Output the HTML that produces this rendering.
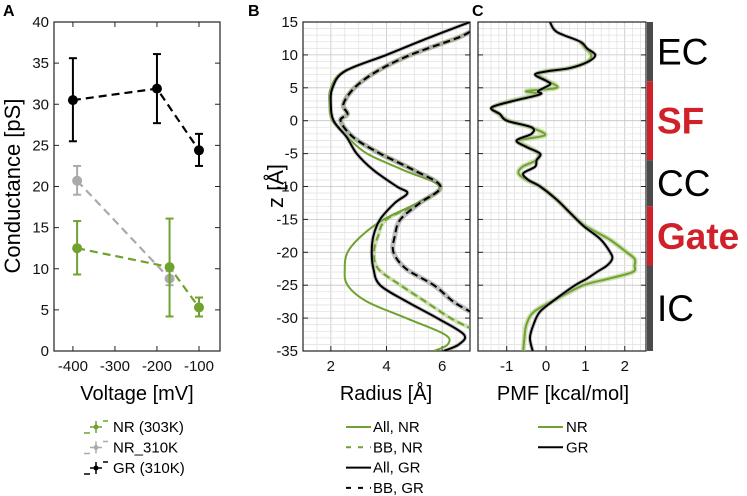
<!DOCTYPE html>
<html><head><meta charset="utf-8"><style>
body{margin:0;background:#fff}
svg{display:block;font-family:"Liberation Sans",sans-serif}
</style></head><body>
<svg id="fig" width="747" height="496" viewBox="0 0 747 496"></svg>
<script>
// ---- Panel A data
const voltsGR=[-400,-200,-100], condGR=[30.5,31.9,24.4], loGR=[25.5,27.7,22.5], hiGR=[35.6,36.1,26.4];
const voltsNR310=[-390,-170], condNR310=[20.7,8.8], loNR310=[19.0,8.0], hiNR310=[22.5,9.7];
const voltsNR303=[-390,-170,-100], condNR303=[12.5,10.2,5.3], loNR303=[9.3,4.2,4.2], hiNR303=[15.8,16.1,6.5];
const aYTicks=[0,5,10,15,20,25,30,35,40], aXTicks=[-400,-300,-200,-100];
// ---- Panel B data (z in Å, radius in Å)
const zAllGR=[15,12.5,10,7.5,5,2.5,0,-2.5,-5,-7.5,-10,-11,-12.5,-15,-17.5,-20,-22.5,-25,-27.5,-30,-32.5,-34,-35];
const rAllGR=[7.0,5.46,4.0,2.5,2.06,2.0,2.1,2.57,2.93,3.53,4.37,4.75,4.3,3.77,3.53,3.47,3.53,3.77,4.73,5.82,6.78,6.6,6.06];
const zAllNR=[15,12.5,10,7.5,5,2.5,0,-2.5,-5,-7.5,-10,-12.5,-15,-17.5,-20,-22.5,-25,-27.5,-30,-32.5,-34,-35];
const rAllNR=[7.0,5.45,4.0,2.45,2.0,1.95,2.05,2.6,3.3,4.6,5.9,5.1,3.9,3.1,2.6,2.5,2.6,3.3,4.7,6.1,6.2,5.7];
const zBBGR=[13.5,12.5,10,7.5,5,2.5,1,0,-2.5,-5,-7.5,-10,-12.5,-15,-17.5,-20,-22.5,-25,-27.5,-29];
const rBBGR=[7.0,6.5,4.86,3.65,2.85,2.45,2.6,2.35,2.8,3.77,4.97,5.94,5.2,4.5,4.3,4.25,4.7,5.7,6.4,7.0];
const zBBNR=[13.5,12.5,10,7.5,5,2.5,1,0,-2.5,-5,-7.5,-10,-12.5,-15,-17.5,-20,-22.5,-25,-27.5,-30,-31.5];
const rBBNR=[7.0,6.5,4.86,3.65,2.85,2.45,2.6,2.35,2.8,3.77,4.97,5.94,5.2,4.0,3.7,3.55,3.7,4.5,5.4,6.3,7.0];
const bYTicks=[15,10,5,0,-5,-10,-15,-20,-25,-30,-35], bXTicks=[2,4,6];
// ---- Panel C data (z, PMF kcal/mol)
const zPmfGR=[15,13.5,12,11,10,9,8,7.5,7,6,5.5,4.5,4,3,2,1,0,-1,-2,-3,-4,-5,-6,-7,-8,-9,-10,-12,-14,-16,-18,-20,-21,-22,-23,-24,-25,-27,-29,-31,-33,-35];
const pmfGR=[0.1,0.27,0.87,1.04,1.25,1.08,0.61,0.02,-0.28,0.02,0.1,-0.2,-0.15,-0.83,-1.39,-1.17,-1.0,-0.37,-0.37,-0.75,-0.5,-0.15,-0.24,-0.28,-0.58,-0.45,-0.15,0.27,0.61,0.95,1.38,1.63,1.68,1.55,1.29,1.04,0.74,0.27,-0.15,-0.32,-0.41,-0.34];
const zPmfNR=[12,11,10,9,8,7.5,7,6,5,4.5,4,3,2,1,0,-1,-2.2,-3,-4,-5,-6,-7,-8,-9,-10,-12,-14,-16,-18,-20,-21,-22,-23,-24,-25,-27,-29,-31,-33,-35];
const pmfNR=[0.87,1.0,1.15,1.05,0.6,0.0,-0.2,0.05,0.27,-0.5,-0.2,-0.9,-1.35,-1.2,-0.95,-0.4,-0.03,-0.7,-0.45,-0.2,-0.25,-0.6,-0.7,-0.5,-0.15,0.27,0.61,1.0,1.6,2.05,2.25,2.25,2.2,1.6,0.95,0.3,-0.3,-0.5,-0.55,-0.58];
const cXTicks=[-1,0,1,2];
const regionNames=["EC","SF","CC","Gate","IC"], regionTop=[15,6,-6,-13,-22], regionBot=[6,-6,-13,-22,-35];

const S='http://www.w3.org/2000/svg', svg=document.getElementById('fig');
function mk(tag,at,parent){const e=document.createElementNS(S,tag);for(const k in at)e.setAttribute(k,at[k]);(parent||svg).appendChild(e);return e;}
function txt(x,y,s,at,parent){const e=mk('text',Object.assign({x:x,y:y},at),parent);e.textContent=s;return e;}
function smooth(p){ // Catmull-Rom to cubic bezier
 let d='M'+p[0][0]+','+p[0][1];
 for(let i=0;i<p.length-1;i++){const p0=p[Math.max(0,i-1)],p1=p[i],p2=p[i+1],p3=p[Math.min(p.length-1,i+2)];
  const c1=[p1[0]+(p2[0]-p0[0])/6,p1[1]+(p2[1]-p0[1])/6],c2=[p2[0]-(p3[0]-p1[0])/6,p2[1]-(p3[1]-p1[1])/6];
  d+=' C'+c1[0]+','+c1[1]+' '+c2[0]+','+c2[1]+' '+p2[0]+','+p2[1];}
 return d;}
const GREEN='#6fa22e', LGREEN='#a9c97a';

// ===== Panel A
const ax={l:54,r:220,t:22,b:351};
const axX=v=>ax.l+(v+445)/395*(ax.r-ax.l), axY=v=>ax.b-v/40*(ax.b-ax.t);
const gA=mk('g',{});


mk('rect',{x:ax.l,y:ax.t,width:ax.r-ax.l,height:ax.b-ax.t,fill:'none',stroke:'#222','stroke-width':1.2},gA);
aYTicks.forEach(t=>{const y=axY(t);mk('line',{x1:ax.l,x2:ax.l+5,y1:y,y2:y,stroke:'#222'},gA);mk('line',{x1:ax.r,x2:ax.r-5,y1:y,y2:y,stroke:'#222'},gA);
 const e=txt(ax.l-5,y+5,String(t),{'text-anchor':'end','font-size':15,fill:'#111'},gA);});
aXTicks.forEach(t=>{const x=axX(t);mk('line',{x1:x,x2:x,y1:ax.b,y2:ax.b-5,stroke:'#222'},gA);mk('line',{x1:x,x2:x,y1:ax.t,y2:ax.t+5,stroke:'#222'},gA);
 const e=txt(x,ax.b+20,String(t),{'text-anchor':'middle','font-size':15,fill:'#111'},gA);});
function series(vx,vy,lo,hi,col,name){
 const g=mk('g',{},gA);
 mk('polyline',{points:vx.map((v,i)=>axX(v)+','+axY(vy[i])).join(' '),fill:'none',stroke:col,'stroke-width':2.2,'stroke-dasharray':'8,5'},g);
 vx.forEach((v,i)=>{const x=axX(v);
  mk('line',{x1:x,x2:x,y1:axY(lo[i]),y2:axY(hi[i]),stroke:col,'stroke-width':2},g);
  mk('line',{x1:x-4,x2:x+4,y1:axY(lo[i]),y2:axY(lo[i]),stroke:col,'stroke-width':2},g);
  mk('line',{x1:x-4,x2:x+4,y1:axY(hi[i]),y2:axY(hi[i]),stroke:col,'stroke-width':2},g);
  const c=mk('circle',{cx:x,cy:axY(vy[i]),r:5,fill:col},g);});
}
series(voltsGR,condGR,loGR,hiGR,'#000','series-gr-310k');
series(voltsNR310,condNR310,loNR310,hiNR310,'#aaa','series-nr-310k');
series(voltsNR303,condNR303,loNR303,hiNR303,GREEN,'series-nr-303k');
let e=txt(20,186,'Conductance [pS]',{'text-anchor':'middle','font-size':22,transform:'rotate(-90 20 186)',fill:'#000'});

e=txt(137,400,'Voltage [mV]',{'text-anchor':'middle','font-size':20,fill:'#000'});

e=txt(3,16,'A',{'font-size':16,'font-weight':'bold'});

// legend A
[['NR (303K)',GREEN],['NR_310K','#aaa'],['GR (310K)','#000']].forEach((d,i)=>{
 const y=427+i*20.5, g=mk('g',{});
 mk('line',{x1:84,x2:90,y1:y+6,y2:y+6,stroke:d[1],'stroke-width':1.5},g);
 mk('line',{x1:103,x2:108,y1:y-6,y2:y-6,stroke:d[1],'stroke-width':1.5},g);
 mk('line',{x1:96,x2:96,y1:y-6,y2:y+6,stroke:d[1],'stroke-width':1.5},g);
 mk('line',{x1:90,x2:102,y1:y,y2:y,stroke:d[1],'stroke-width':1.5},g);
 mk('circle',{cx:96,cy:y,r:2.5,fill:d[1]},g);
 txt(113,y+5,d[0],{'font-size':15,fill:'#000'},g);
});

// ===== Panel B
const bx={l:303,r:470,t:22,b:351};
const bX=v=>bx.l+(v-1)/6*(bx.r-bx.l), zY=z=>bx.t+(15-z)/50*(bx.b-bx.t);
const gB=mk('g',{});
for(let v=1;v<=7.001;v+=0.5){const x=bX(v);mk('line',{x1:x,x2:x,y1:bx.t,y2:bx.b,stroke:Math.abs(v%2)<0.01?'#c4c4c4':'#e3e3e3','stroke-width':0.8},gB);}
for(let z=-35;z<=15;z++){const y=zY(z);mk('line',{x1:bx.l,x2:bx.r,y1:y,y2:y,stroke:z%5==0?'#c4c4c4':'#e3e3e3','stroke-width':0.8},gB);}
mk('rect',{x:bx.l,y:bx.t,width:bx.r-bx.l,height:bx.b-bx.t,fill:'none',stroke:'#222','stroke-width':1.2},gB);
bYTicks.forEach(t=>{const y=zY(t);mk('line',{x1:bx.l,x2:bx.l+5,y1:y,y2:y,stroke:'#222'},gB);mk('line',{x1:bx.r,x2:bx.r-5,y1:y,y2:y,stroke:'#222'},gB);
 const e=txt(bx.l-5,y+5,String(t),{'text-anchor':'end','font-size':15,fill:'#111'},gB);});
bXTicks.forEach(t=>{const x=bX(t);mk('line',{x1:x,x2:x,y1:bx.b,y2:bx.b-5,stroke:'#222'},gB);
 const e=txt(x,bx.b+20,String(t),{'text-anchor':'middle','font-size':15,fill:'#111'},gB);});
const cpB=mk('clipPath',{id:'cpB'});mk('rect',{x:bx.l,y:bx.t,width:bx.r-bx.l,height:bx.b-bx.t},cpB);
function curve(par,xs,zs,fx,col,w,dash,band,bandCol,name,clip){
 const g=mk('g',{'clip-path':'url(#'+clip+')'},par);
 const d=smooth(xs.map((v,i)=>[fx(v),zY(zs[i])]));
 if(band)mk('path',{d:d,fill:'none',stroke:bandCol,'stroke-width':band,'stroke-linejoin':'round','stroke-opacity':0.55},g);
 const a={d:d,fill:'none',stroke:col,'stroke-width':w,'stroke-linejoin':'round'};if(dash)a['stroke-dasharray']=dash;
 mk('path',a,g);}
curve(gB,rBBNR,zBBNR,bX,GREEN,2,'7,4',4,LGREEN,'line-bb-nr','cpB');
curve(gB,rAllNR,zAllNR,bX,GREEN,2,null,0,0,'line-all-nr','cpB');
curve(gB,rBBGR,zBBGR,bX,'#000',2,'7,4',5,'#888','line-bb-gr','cpB');
curve(gB,rAllGR,zAllGR,bX,'#000',2,null,4,'#999','line-all-gr','cpB');
e=txt(283,186,'z [Å]',{'text-anchor':'middle','font-size':22,transform:'rotate(-90 283 186)'});
e=txt(386,400,'Radius [Å]',{'text-anchor':'middle','font-size':20});
e=txt(248,16,'B',{'font-size':16,'font-weight':'bold'});
[['All, NR',GREEN,null],['BB, NR',GREEN,'5,7'],['All, GR','#000',null],['BB, GR','#000','5,7']].forEach((d,i)=>{
 const y=427+i*20.3,g=mk('g',{});
 const a={x1:346,x2:371,y1:y,y2:y,stroke:d[1],'stroke-width':2};if(d[2])a['stroke-dasharray']=d[2];mk('line',a,g);
 txt(373,y+5,d[0],{'font-size':15},g);});

// ===== Panel C
const cx={l:478,r:646};
const cX=v=>cx.l+(v+1.73)/4.27*(cx.r-cx.l);
const gC=mk('g',{});
for(let k=-8;k<=12;k++){const v=k*0.2;const x=cX(v);if(x<cx.l||x>cx.r)continue;mk('line',{x1:x,x2:x,y1:bx.t,y2:bx.b,stroke:k%5==0?'#c4c4c4':'#e3e3e3','stroke-width':0.8},gC);}
for(let z=-35;z<=15;z++){const y=zY(z);mk('line',{x1:cx.l,x2:cx.r,y1:y,y2:y,stroke:z%5==0?'#c4c4c4':'#e3e3e3','stroke-width':0.8},gC);}
mk('rect',{x:cx.l,y:bx.t,width:cx.r-cx.l,height:bx.b-bx.t,fill:'none',stroke:'#222','stroke-width':1.2},gC);
bYTicks.forEach(t=>{const y=zY(t);mk('line',{x1:cx.l,x2:cx.l+5,y1:y,y2:y,stroke:'#222'},gC);mk('line',{x1:cx.r,x2:cx.r-5,y1:y,y2:y,stroke:'#222'},gC);});
cXTicks.forEach(t=>{const x=cX(t);mk('line',{x1:x,x2:x,y1:bx.b,y2:bx.b-5,stroke:'#222'},gC);
 const e=txt(x,bx.b+20,String(t),{'text-anchor':'middle','font-size':15,fill:'#111'},gC);});
const cpC=mk('clipPath',{id:'cpC'});mk('rect',{x:cx.l,y:bx.t,width:cx.r-cx.l,height:bx.b-bx.t},cpC);
curve(gC,pmfNR,zPmfNR,cX,GREEN,2,null,5,LGREEN,'line-pmf-nr','cpC');
curve(gC,pmfGR,zPmfGR,cX,'#000',2,null,4,'#999','line-pmf-gr','cpC');
e=txt(563,400,'PMF [kcal/mol]',{'text-anchor':'middle','font-size':20});
e=txt(472,16,'C',{'font-size':16,'font-weight':'bold'});
[['NR',GREEN],['GR','#000']].forEach((d,i)=>{
 const y=427+i*20.3,g=mk('g',{});
 mk('line',{x1:538,x2:563,y1:y,y2:y,stroke:d[1],'stroke-width':2},g);
 txt(566,y+5,d[0],{'font-size':15},g);});

// regions
regionNames.forEach((n,i)=>{
 const red=(n==='SF'||n==='Gate'), col=red?'#d0202a':'#4a4a4a';
 const y1=zY(regionTop[i]),y2=zY(regionBot[i]);
 const r=mk('rect',{x:647,y:y1,width:6,height:y2-y1,fill:col});
 const t=txt(657,(y1+y2)/2+13,n,{'font-size':37,'font-weight':red?'bold':'normal',fill:red?'#d0202a':'#000'});
 
});
</script>
</body></html>
